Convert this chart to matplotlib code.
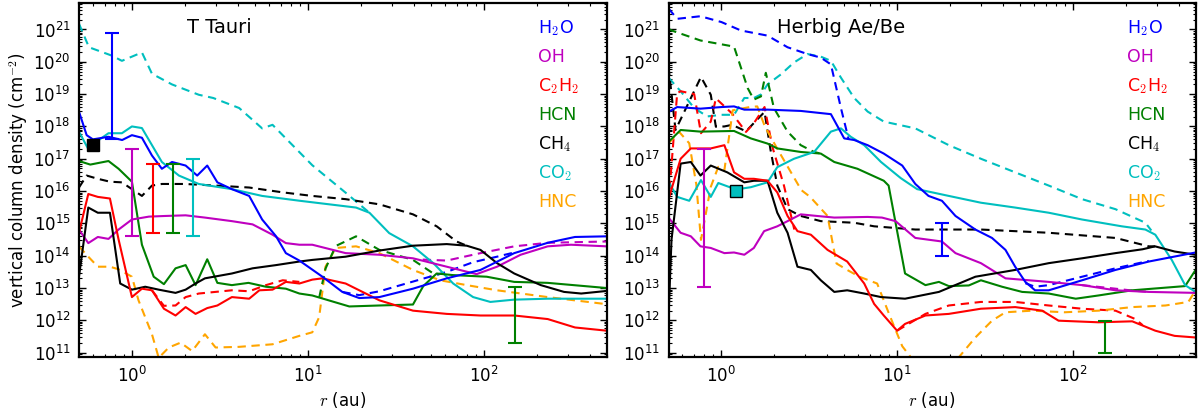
import numpy as np
import matplotlib
matplotlib.use("Agg")
import matplotlib.pyplot as plt
from matplotlib.ticker import LogLocator, FixedLocator, NullFormatter

plt.rcParams['mathtext.fontset'] = 'cm'
plt.rcParams['font.family'] = ['DejaVu Sans']

# ---- T Tauri panel: radius (au) and log10 column density (cm^-2) ----
tt_h2o_r = [0.5, 0.553, 0.6, 0.736, 0.88, 1.0, 1.14, 1.30, 1.48, 1.69, 2.02, 2.35, 2.68, 3.06, 3.7, 4.64, 5.5, 6.6, 7.5, 8.95, 12.1, 15.7, 19.6, 25.5, 39.6, 61.6, 95.8, 149, 231, 330, 500]
tt_h2o_n = [18.46, 17.73, 17.6, 17.68, 17.58, 17.73, 17.65, 17.1, 16.69, 16.9, 16.79, 16.48, 16.79, 16.27, 16.06, 15.85, 15.12, 14.6, 14.08, 13.85, 13.35, 12.88, 12.69, 12.72, 12.98, 13.3, 13.56, 14.08, 14.4, 14.58, 14.6]
tt_h2o_dash_r = [15.7, 19.6, 25.5, 39.6, 61.6, 87, 119, 149]
tt_h2o_dash_n = [12.88, 12.78, 12.9, 13.2, 13.5, 13.8, 13.97, 14.1]

tt_oh_r = [0.5, 0.565, 0.64, 0.736, 0.84, 1.0, 1.25, 1.55, 2.02, 2.6, 3.7, 4.85, 6.3, 7.5, 8.95, 10.6, 16.4, 25.5, 39.6, 61.6, 91, 119, 162, 231, 313, 500]
tt_oh_n = [14.81, 14.39, 14.58, 14.52, 14.81, 15.12, 15.21, 15.23, 15.25, 15.18, 15.07, 14.97, 14.65, 14.39, 14.34, 14.34, 14.08, 14.03, 13.92, 13.66, 13.43, 13.66, 14.03, 14.29, 14.34, 14.29]
tt_oh_dash_r = [45, 61.6, 95.8, 149, 231, 500]
tt_oh_dash_n = [13.88, 13.85, 14.08, 14.29, 14.4, 14.44]

tt_c2h2_r = [0.5, 0.565, 0.64, 0.75, 0.84, 1.0, 1.14, 1.30, 1.52, 1.77, 2.02, 2.3, 2.68, 3.06, 3.7, 4.64, 5.3, 6.3, 7.5, 8.95, 10.6, 12.1, 16.4, 25.5, 39.6, 61.6, 95.8, 149, 231, 330, 500]
tt_c2h2_n = [14.71, 15.91, 15.82, 15.77, 14.5, 12.72, 12.98, 12.93, 12.36, 12.15, 12.41, 12.2, 12.38, 12.46, 12.72, 12.67, 12.93, 12.95, 13.19, 13.14, 13.26, 13.3, 13.14, 12.62, 12.3, 12.2, 12.15, 12.15, 12.04, 11.78, 11.68]
tt_c2h2_dash_r = [1.30, 1.52, 1.77, 2.02, 2.4, 3.7, 4.64, 5.78, 7.2, 8.95]
tt_c2h2_dash_n = [12.93, 12.45, 12.46, 12.72, 12.83, 12.93, 12.9, 13.09, 13.24, 13.19]

tt_hcn_r = [0.5, 0.58, 0.736, 0.84, 1.0, 1.14, 1.33, 1.52, 1.77, 2.02, 2.3, 2.68, 3.06, 3.7, 4.6, 5.78, 7.5, 8.95, 10.6, 17.2, 25.5, 39.6, 45.3, 54, 67, 104, 149, 231, 500]
tt_hcn_n = [16.93, 16.82, 16.93, 16.69, 16.29, 14.34, 13.35, 13.12, 13.61, 13.71, 13.09, 13.89, 13.16, 13.09, 13.16, 13.04, 12.98, 12.83, 12.77, 12.43, 12.46, 12.49, 13.06, 13.45, 13.4, 13.35, 13.19, 13.16, 13.0]
tt_hcn_dash_r = [11.6, 12.6, 14.4, 18.8, 25.5, 39.6, 51.7, 56]
tt_hcn_dash_n = [12.7, 13.6, 14.3, 14.6, 14.18, 13.87, 13.45, 13.42]

tt_ch4_r = [0.5, 0.565, 0.64, 0.75, 0.858, 1.0, 1.19, 1.42, 1.77, 2.02, 2.3, 2.6, 3.7, 4.85, 6.6, 8.95, 10.6, 16.4, 25.5, 39.6, 61.6, 80, 95.8, 119, 149, 211, 286, 358, 500]
tt_ch4_n = [13.35, 15.49, 15.33, 15.33, 13.14, 12.95, 13.04, 12.95, 12.85, 12.95, 13.14, 13.3, 13.45, 13.61, 13.71, 13.82, 13.87, 13.97, 14.16, 14.31, 14.36, 14.31, 14.18, 13.77, 13.45, 13.09, 12.88, 12.83, 12.91]
tt_ch4_dash_r = [0.5, 0.553, 0.64, 0.75, 0.877, 1.0, 1.14, 1.3, 1.48, 2.0, 3.0, 4.64, 7.2, 10.6, 16.4, 25.5, 39.6, 54, 70, 80]
tt_ch4_dash_n = [16.11, 16.48, 16.38, 16.29, 16.27, 16.06, 15.85, 16.17, 16.22, 16.22, 16.17, 16.11, 15.96, 15.85, 15.75, 15.59, 15.28, 14.91, 14.44, 14.31]

tt_co2_r = [0.5, 0.57, 0.625, 0.736, 0.877, 1.0, 1.14, 1.48, 1.85, 2.4, 3.7, 5.5, 9.0, 18.8, 22.4, 29, 39.6, 51.7, 67, 87, 109, 148, 231, 500]
tt_co2_n = [17.84, 17.26, 17.52, 17.79, 17.79, 18.0, 17.95, 16.9, 16.48, 16.22, 16.06, 15.85, 15.7, 15.49, 15.33, 14.7, 14.29, 13.77, 13.14, 12.72, 12.57, 12.64, 12.67, 12.67]
tt_co2_dash_r = [0.5, 0.57, 0.77, 0.877, 1.14, 1.30, 1.69, 2.4, 2.9, 4.07, 5.5, 6.3, 7.5, 10.6, 16.4, 22.4]
tt_co2_dash_n = [21.18, 20.45, 20.19, 20.03, 20.29, 19.63, 19.3, 18.98, 18.88, 18.57, 17.94, 18.05, 17.63, 16.8, 15.95, 15.33]

tt_hnc_dash_r = [0.5, 0.565, 0.64, 0.75, 0.84, 1.0, 1.09, 1.30, 1.42, 1.62, 1.89, 2.2, 2.6, 2.99, 4.07, 6.3, 8.95, 10.6, 11.6, 12.6, 14.4, 18.8, 25.5, 39.6, 56.5, 80, 119, 231, 500]
tt_hnc_dash_n = [14.29, 13.97, 13.66, 13.66, 13.58, 13.35, 12.62, 11.57, 10.84, 11.16, 11.31, 11.05, 11.57, 11.16, 11.18, 11.26, 11.52, 11.63, 12.1, 13.66, 14.24, 14.29, 14.08, 13.56, 13.24, 13.09, 12.93, 12.72, 12.5]

# observed ranges (r, log lower, log upper, colour) and square markers
tt_err_r = [0.77, 1.0, 1.31, 1.71, 2.22, 151]
tt_err_lo = [17.6, 14.61, 14.71, 14.71, 14.61, 11.31]
tt_err_hi = [20.88, 17.29, 16.83, 16.83, 16.98, 13.02]
tt_err_c = ['b', 'm', 'r', 'g', 'c', 'g']
tt_sq_r, tt_sq_n, tt_sq_c = 0.6, 17.44, 'k'

# ---- Herbig Ae/Be panel ----
hb_h2o_r = [0.5, 0.56, 0.76, 1.0, 1.18, 1.35, 1.83, 2.83, 4.2, 5.0, 5.7, 6.8, 8.4, 10.7, 12.7, 15.1, 18, 21.5, 27.9, 34.7, 41.4, 47, 53.7, 61, 73, 113, 175, 271, 500]
hb_h2o_n = [18.45, 18.6, 18.55, 18.6, 18.62, 18.52, 18.52, 18.48, 18.38, 17.63, 17.58, 17.42, 17.16, 16.79, 16.22, 15.85, 15.7, 15.23, 14.81, 14.55, 14.18, 13.66, 13.19, 12.93, 12.93, 13.24, 13.56, 13.82, 14.1]
hb_h2o_dash_r = [0.5, 0.56, 0.76, 1.0, 1.29, 1.83, 2.38, 3.09, 3.68, 4.2, 4.79, 5.3]
hb_h2o_dash_n = [21.65, 21.33, 21.41, 21.23, 20.97, 20.81, 20.45, 20.24, 20.13, 19.92, 18.57, 17.6]
hb_h2o_dash2_r = [53.7, 61, 73, 113, 175, 271]
hb_h2o_dash2_n = [13.15, 13.04, 13.09, 13.35, 13.61, 13.84]

hb_oh_r = [0.5, 0.586, 0.67, 0.76, 0.87, 1.04, 1.18, 1.35, 1.53, 1.75, 2.08, 2.38, 2.83, 3.5, 4.39, 6.8, 8.2, 9.8, 12.7, 18, 21.5, 30, 41.4, 73, 113, 175, 271, 500]
hb_oh_n = [15.18, 14.71, 14.6, 14.29, 14.24, 14.08, 14.1, 14.03, 14.24, 14.76, 14.91, 15.07, 15.28, 15.23, 15.18, 15.2, 15.18, 15.07, 14.55, 14.44, 14.08, 13.77, 13.3, 13.19, 13.09, 12.93, 12.88, 12.85]
hb_oh_dash_r = [113, 175, 220, 271]
hb_oh_dash_n = [13.09, 12.98, 12.92, 12.88]

hb_c2h2_r = [0.5, 0.586, 0.67, 0.87, 1.04, 1.18, 1.35, 1.53, 1.83, 2.08, 2.38, 2.71, 3.23, 4.02, 5.2, 6.5, 7.4, 8.4, 10, 11.1, 14.5, 19.7, 30, 47, 67, 83, 140, 218, 295, 380, 500]
hb_c2h2_n = [15.75, 17.0, 17.32, 17.32, 17.42, 16.58, 16.38, 16.38, 16.32, 15.96, 15.23, 14.76, 14.65, 14.18, 13.82, 13.14, 12.51, 12.15, 11.68, 11.89, 12.15, 12.2, 12.36, 12.41, 12.3, 11.99, 11.94, 11.97, 11.68, 11.52, 11.47]
hb_c2h2_dash_r = [0.5, 0.56, 0.586, 0.7, 0.765, 0.87, 0.93, 1.15, 1.38, 1.53, 1.76, 1.95, 2.27, 2.6]
hb_c2h2_dash_n = [15.63, 19.03, 19.09, 19.0, 17.79, 18.15, 18.87, 18.4, 17.83, 18.1, 18.6, 17.37, 16.17, 14.81]
hb_c2h2_dash2_r = [10, 14.5, 19.7, 30, 47, 73, 113, 175, 227, 250]
hb_c2h2_dash2_n = [11.68, 12.2, 12.46, 12.57, 12.57, 12.46, 12.36, 12.3, 12.04, 11.85]

hb_hcn_r = [0.5, 0.586, 0.76, 1.18, 1.47, 1.83, 2.08, 2.83, 3.68, 4.39, 5.95, 8.4, 8.95, 11.1, 14.5, 17.3, 19.7, 25.6, 30, 39.6, 51.5, 73, 104, 140, 218, 436, 500]
hb_hcn_n = [17.52, 17.89, 17.84, 17.86, 17.63, 17.47, 17.32, 17.21, 17.16, 16.9, 16.69, 16.32, 16.17, 13.45, 13.09, 13.19, 13.06, 13.08, 13.24, 13.04, 12.88, 12.83, 12.67, 12.77, 12.93, 13.06, 13.56]
hb_hcn_dash_r = [0.5, 0.52, 0.76, 1.18, 1.41, 1.53, 1.68, 1.79, 1.99, 2.38, 2.83, 3.37, 3.68]
hb_hcn_dash_n = [21.02, 20.97, 20.66, 20.47, 19.19, 18.83, 18.93, 19.66, 18.57, 17.84, 17.42, 17.21, 17.16]

hb_ch4_r = [0.5, 0.52, 0.586, 0.67, 0.76, 0.87, 1.08, 1.35, 1.53, 1.83, 2.08, 2.38, 2.71, 3.23, 3.68, 4.39, 5.2, 6.5, 8.1, 11.1, 17.3, 27.9, 47, 73, 113, 175, 250, 294, 380, 500]
hb_ch4_n = [12.1, 14.5, 16.85, 16.9, 16.48, 16.79, 16.58, 16.27, 16.32, 16.32, 15.33, 14.71, 13.66, 13.56, 13.24, 12.88, 12.93, 12.83, 12.72, 12.67, 12.88, 13.35, 13.56, 13.77, 13.92, 14.08, 14.2, 14.29, 14.13, 14.03]
hb_ch4_dash_r = [0.5, 0.548, 0.765, 0.87, 0.93, 1.04, 1.15, 1.38, 1.76, 1.9, 2.08, 2.38, 2.83, 3.68, 5.7, 7.4, 12.7, 30, 73, 175, 271, 294]
hb_ch4_dash_n = [19.84, 17.89, 19.53, 18.98, 17.99, 18.0, 18.05, 17.85, 18.45, 17.3, 16.17, 15.44, 15.23, 15.07, 15.02, 14.91, 14.81, 14.81, 14.71, 14.55, 14.29, 14.29]

hb_co2_r = [0.5, 0.56, 0.656, 0.765, 0.87, 0.96, 1.21, 1.47, 1.83, 2.08, 2.59, 3.37, 4.2, 4.79, 5.45, 6.5, 8.1, 10.5, 13, 19.7, 30, 47, 73, 113, 190, 259, 295, 366, 436, 500]
hb_co2_n = [16.29, 15.82, 15.7, 16.34, 15.82, 16.25, 16.05, 16.12, 16.27, 16.74, 17.0, 17.21, 17.84, 17.94, 17.68, 17.42, 16.9, 16.4, 16.06, 15.85, 15.64, 15.49, 15.33, 15.12, 14.91, 14.81, 14.65, 13.87, 13.09, 12.88]
hb_co2_dash_r = [0.5, 0.586, 0.7, 0.83, 1.0, 1.18, 1.35, 1.53, 1.68, 1.83, 2.18, 2.59, 3.09, 3.68, 4.2, 4.79, 5.7, 6.8, 8.4, 12.7, 19.7, 30, 47, 73, 113, 175, 259, 280]
hb_co2_dash_n = [19.51, 19.09, 18.57, 18.31, 18.36, 18.36, 18.88, 18.88, 18.99, 19.3, 19.61, 19.98, 20.24, 20.16, 20.03, 19.51, 18.88, 18.46, 18.15, 17.94, 17.42, 17.0, 16.58, 16.17, 15.75, 15.44, 15.02, 14.78]

hb_hnc_dash_r = [0.5, 0.575, 0.656, 0.72, 0.765, 0.87, 0.96, 1.04, 1.16, 1.45, 1.6, 1.77, 2.1, 2.85, 3.2, 4.02, 4.52, 5.2, 6.1, 7.7, 9.0, 10.7, 12.2, 15, 20, 22.4, 27.9, 34.7, 41.4, 58.6, 90, 140, 218, 337, 455, 500]
hb_hnc_dash_n = [17.48, 17.83, 17.48, 16.2, 14.49, 16.13, 16.75, 16.65, 18.5, 18.6, 18.62, 17.99, 17.27, 16.03, 15.82, 15.23, 13.76, 13.56, 13.35, 13.14, 12.2, 11.2, 10.8, 10.5, 10.6, 10.85, 11.47, 11.99, 12.25, 12.3, 12.25, 12.3, 12.41, 12.46, 12.57, 12.93]

hb_err_r = [0.80, 18, 153]
hb_err_lo = [13.02, 13.99, 11.0]
hb_err_hi = [17.29, 15.0, 11.99]
hb_err_c = ['m', 'b', 'g']
hb_sq_r, hb_sq_n, hb_sq_c = 1.21, 16.0, 'c'

species = ['H$_2$O', 'OH', 'C$_2$H$_2$', 'HCN', 'CH$_4$', 'CO$_2$', 'HNC']
species_col = ['b', 'm', 'r', 'g', 'k', 'c', 'orange']
x_major = [1, 10, 100]
y_major = [1e11, 1e12, 1e13, 1e14, 1e15, 1e16, 1e17, 1e18, 1e19, 1e20, 1e21]

DASH = (4, 2.7)


def line(ax, r, n, c, dashed=False):
    y = 10.0 ** np.array(n)
    if dashed:
        ax.plot(r, y, color=c, lw=1.5, dashes=DASH)
    else:
        ax.plot(r, y, color=c, lw=1.5)


def style(ax, title):
    ax.set_xscale('log')
    ax.set_yscale('log')
    ax.set_xlim(0.5, 500)
    ax.set_ylim(7.2e10, 6.6e21)
    ax.xaxis.set_major_locator(FixedLocator(x_major))
    ax.yaxis.set_major_locator(FixedLocator(y_major))
    ax.yaxis.set_minor_locator(LogLocator(base=10, subs=np.arange(2, 10), numticks=100))
    ax.yaxis.set_minor_formatter(NullFormatter())
    ax.xaxis.set_minor_formatter(NullFormatter())
    ax.tick_params(which='both', direction='in', top=True, right=True)
    ax.tick_params(which='major', length=5, width=1, labelsize=12, pad=6)
    ax.tick_params(which='minor', length=2.5, width=0.8)
    for s in ax.spines.values():
        s.set_linewidth(1.6)
    ax.set_xlabel('$r$ (au)', fontsize=12, labelpad=3)
    ax.text(0.205, 0.93, title, transform=ax.transAxes, fontsize=14, va='center')
    for i, (lab, c) in enumerate(zip(species, species_col)):
        ax.text(0.87, 0.929 - i * 0.0819, lab, color=c, fontsize=12.5,
                transform=ax.transAxes, va='center', ha='left')


def errs(ax, rr, lo, hi, cols):
    for x, a, b, c in zip(rr, lo, hi, cols):
        ax.errorbar([x], [10.0 ** a], yerr=[[0], [10.0 ** b - 10.0 ** a]], fmt='none',
                    ecolor=c, elinewidth=1.5, capsize=5, capthick=1.5)


fig = plt.figure(figsize=(12, 4.11), dpi=100)
ax1 = fig.add_axes([0.0658, 0.1307, 0.4398, 0.862])
ax2 = fig.add_axes([0.5571, 0.1307, 0.4392, 0.862])

# T Tauri
line(ax1, tt_co2_dash_r, tt_co2_dash_n, 'c', True)
line(ax1, tt_ch4_dash_r, tt_ch4_dash_n, 'k', True)
line(ax1, tt_hnc_dash_r, tt_hnc_dash_n, 'orange', True)
line(ax1, tt_hcn_dash_r, tt_hcn_dash_n, 'g', True)
line(ax1, tt_c2h2_dash_r, tt_c2h2_dash_n, 'r', True)
line(ax1, tt_oh_dash_r, tt_oh_dash_n, 'm', True)
line(ax1, tt_h2o_dash_r, tt_h2o_dash_n, 'b', True)
line(ax1, tt_co2_r, tt_co2_n, 'c')
line(ax1, tt_hcn_r, tt_hcn_n, 'g')
line(ax1, tt_oh_r, tt_oh_n, 'm')
line(ax1, tt_ch4_r, tt_ch4_n, 'k')
line(ax1, tt_c2h2_r, tt_c2h2_n, 'r')
line(ax1, tt_h2o_r, tt_h2o_n, 'b')
errs(ax1, tt_err_r, tt_err_lo, tt_err_hi, tt_err_c)
ax1.plot([tt_sq_r], [10.0 ** tt_sq_n], 's', color=tt_sq_c, mec='k', ms=8.5)
style(ax1, 'T Tauri')
ax1.set_ylabel('vertical column density (cm$^{-2}$)', fontsize=12, labelpad=2)

# Herbig Ae/Be
line(ax2, hb_co2_dash_r, hb_co2_dash_n, 'c', True)
line(ax2, hb_h2o_dash_r, hb_h2o_dash_n, 'b', True)
line(ax2, hb_h2o_dash2_r, hb_h2o_dash2_n, 'b', True)
line(ax2, hb_hcn_dash_r, hb_hcn_dash_n, 'g', True)
line(ax2, hb_ch4_dash_r, hb_ch4_dash_n, 'k', True)
line(ax2, hb_c2h2_dash_r, hb_c2h2_dash_n, 'r', True)
line(ax2, hb_c2h2_dash2_r, hb_c2h2_dash2_n, 'r', True)
line(ax2, hb_hnc_dash_r, hb_hnc_dash_n, 'orange', True)
line(ax2, hb_oh_dash_r, hb_oh_dash_n, 'm', True)
line(ax2, hb_hcn_r, hb_hcn_n, 'g')
line(ax2, hb_co2_r, hb_co2_n, 'c')
line(ax2, hb_oh_r, hb_oh_n, 'm')
line(ax2, hb_ch4_r, hb_ch4_n, 'k')
line(ax2, hb_c2h2_r, hb_c2h2_n, 'r')
line(ax2, hb_h2o_r, hb_h2o_n, 'b')
errs(ax2, hb_err_r, hb_err_lo, hb_err_hi, hb_err_c)
ax2.plot([hb_sq_r], [10.0 ** hb_sq_n], 's', color=hb_sq_c, mec='k', ms=9)
style(ax2, 'Herbig Ae/Be')

fig.savefig('out.png', dpi=100)
